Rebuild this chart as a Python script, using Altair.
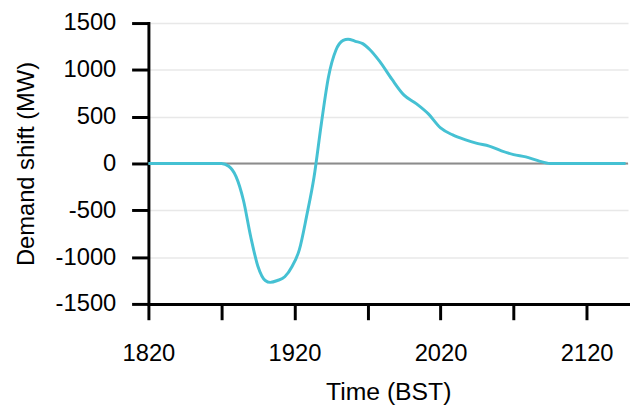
import altair as alt
import pandas as pd

# Time of day (BST) of each sample and the demand shift (MW)
times = ["18:20", "18:30", "18:40", "18:47", "18:50", "18:53", "18:56", "18:59",
         "19:02", "19:05", "19:08", "19:10", "19:13", "19:16", "19:19", "19:22",
         "19:25", "19:28", "19:31", "19:34", "19:37", "19:40", "19:42", "19:45",
         "19:48", "19:51", "19:55", "20:00", "20:05", "20:10", "20:15", "20:20",
         "20:25", "20:30", "20:35", "20:40", "20:45", "20:50", "20:55", "21:00",
         "21:05", "21:15", "21:25", "21:36"]
shift_mw = [0, 0, 0, 0, 0, -30, -140, -390,
            -780, -1100, -1250, -1270, -1250, -1210, -1100, -920,
            -560, -150, 420, 930, 1210, 1315, 1328, 1305,
            1280, 1215, 1090, 900, 730, 640, 530, 380,
            305, 255, 215, 185, 135, 95, 70, 30,
            0, 0, 0, 0]

x_ticks = [0, 30, 60, 90, 120, 150, 180]
y_ticks = [-1500, -1000, -500, 0, 500, 1000, 1500]

def to_min(t):
    h, m = t.split(":")
    return (int(h) - 18) * 60 + int(m) - 20

df = pd.DataFrame({"t": [to_min(t) for t in times], "v": shift_mw})
zero = pd.DataFrame({"y": [0]})

FONT = "Liberation Sans"
x_scale = alt.Scale(domain=[0, 197], nice=False, zero=False)
y_scale = alt.Scale(domain=[-1500, 1500], nice=False)

line = alt.Chart(df).mark_line(
    color="#45C1D3", strokeWidth=3, interpolate="monotone"
).encode(
    x=alt.X("t:Q", scale=x_scale,
            axis=alt.Axis(title="Time (BST)", values=x_ticks, grid=False,
                          labelExpr="datum.value % 60 == 0 ? '' + (1820 + floor(datum.value/60)*100) : ''",
                          labelFontSize=24, titleFontSize=25, labelFont=FONT, titleFont=FONT,
                          labelColor="#000", titleColor="#000", titleFontWeight="normal",
                          domainColor="#000", domainWidth=3, tickColor="#000", tickWidth=3,
                          tickSize=16, labelPadding=22, titlePadding=15, labelFlush=False)),
    y=alt.Y("v:Q", scale=y_scale,
            axis=alt.Axis(title="Demand shift (MW)", values=y_ticks, grid=True,
                          labelExpr="'' + datum.value",
                          gridColor="#e8e8e8", gridWidth=1.5,
                          labelFontSize=24, titleFontSize=24, labelFont=FONT, titleFont=FONT,
                          labelColor="#000", titleColor="#000", titleFontWeight="normal",
                          domainColor="#000", domainWidth=3, tickColor="#000", tickWidth=3,
                          tickSize=17, labelPadding=16, titlePadding=17)),
)

zero_rule = alt.Chart(zero).mark_rule(color="#8c8c8c", strokeWidth=2).encode(
    y=alt.Y("y:Q", scale=y_scale),
    x=alt.value(0), x2=alt.value(485),
)

chart = alt.layer(zero_rule, line).properties(
    width=485, height=284,
    autosize=alt.AutoSizeParams(type="none"),
    padding={"left": 142, "top": 13, "right": 2, "bottom": 100},
).configure_view(stroke=None).configure_axis(domainCap="square")

chart.save("out.html", embed_options={"renderer": "svg", "actions": False})
